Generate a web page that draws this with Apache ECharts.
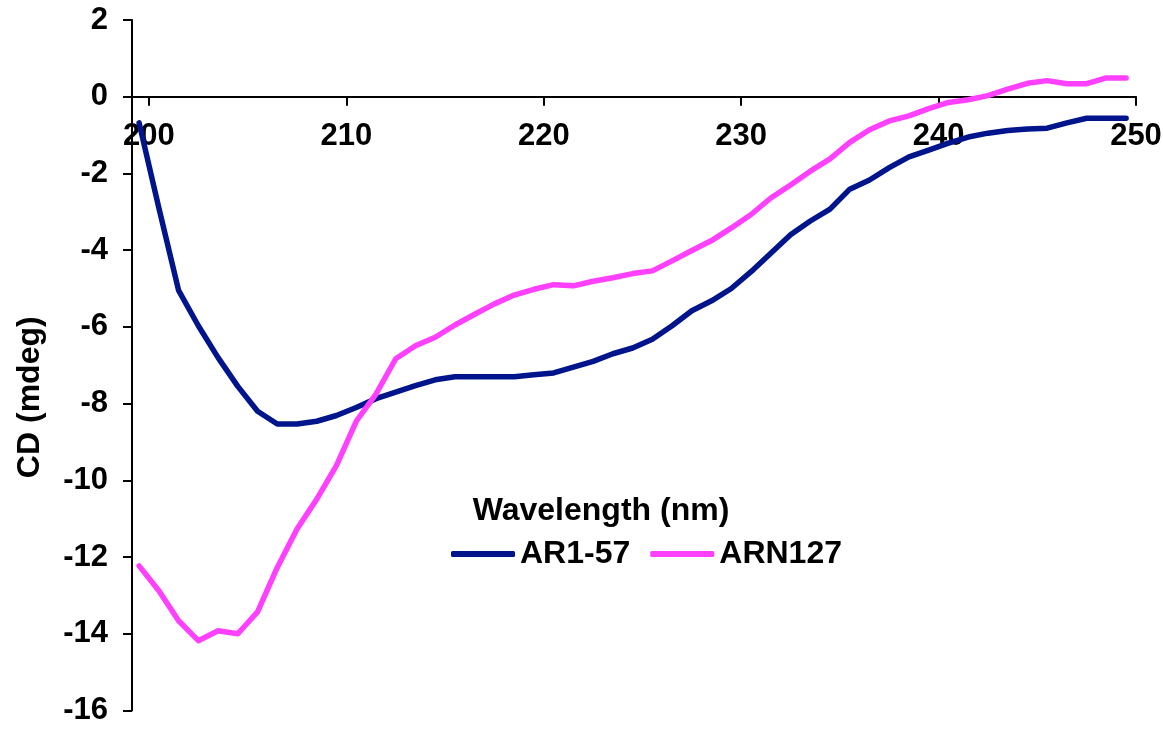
<!DOCTYPE html>
<html>
<head>
<meta charset="utf-8">
<script src="https://cdn.jsdelivr.net/npm/echarts@6/dist/echarts.min.js"></script>
<style>
  html, body { margin: 0; padding: 0; background: #fff; }
  #chart { width: 1163px; height: 729px; }
</style>
</head>
<body>
<div id="chart"></div>
<script>
// wavelength (nm) of each point, as placed on the axis
var wavelength = [199.5, 200.5, 201.5, 202.5, 203.5, 204.5, 205.5, 206.5, 207.5, 208.5,
  209.5, 210.5, 211.5, 212.5, 213.5, 214.5, 215.5, 216.5, 217.5, 218.5,
  219.5, 220.5, 221.5, 222.5, 223.5, 224.5, 225.5, 226.5, 227.5, 228.5,
  229.5, 230.5, 231.5, 232.5, 233.5, 234.5, 235.5, 236.5, 237.5, 238.5,
  239.5, 240.5, 241.5, 242.5, 243.5, 244.5, 245.5, 246.5, 247.5, 248.5, 249.5];
// CD (mdeg)
var ar157 = [-0.68, -2.9, -5.05, -5.97, -6.8, -7.55, -8.2, -8.53, -8.53, -8.46,
  -8.31, -8.1, -7.87, -7.7, -7.53, -7.38, -7.3, -7.3, -7.3, -7.3,
  -7.25, -7.2, -7.05, -6.9, -6.7, -6.55, -6.32, -5.97, -5.58, -5.32,
  -5.0, -4.56, -4.08, -3.6, -3.24, -2.93, -2.41, -2.17, -1.85, -1.57,
  -1.39, -1.21, -1.05, -0.95, -0.88, -0.84, -0.82, -0.68, -0.56, -0.56, -0.56];
var arn127 = [-12.23, -12.88, -13.66, -14.18, -13.92, -14.0, -13.43, -12.27, -11.27, -10.49,
  -9.61, -8.46, -7.75, -6.83, -6.49, -6.27, -5.95, -5.67, -5.4, -5.17,
  -5.02, -4.9, -4.93, -4.81, -4.72, -4.61, -4.54, -4.28, -4.01, -3.75,
  -3.42, -3.07, -2.64, -2.3, -1.94, -1.62, -1.19, -0.86, -0.63, -0.5,
  -0.31, -0.15, -0.08, 0.03, 0.2, 0.35, 0.42, 0.34, 0.34, 0.49, 0.49];
var xTicks = [200, 210, 220, 230, 240, 250];

var font = "'Liberation Sans', Arial, sans-serif";
var yMin = -16, yMax = 2;
var gridTop = 20, gridBottom = 18.5, chartH = 729;

function pairs (xs, ys) {
  var out = [];
  for (var i = 0; i < xs.length; i++) {
    out.push([xs[i], ys[i]]);
  }
  return out;
}

// the x axis sits on the zero line, so shift it up from the grid bottom
var plotH = chartH - gridTop - gridBottom;
var zeroShift = plotH * (0 - yMin) / (yMax - yMin);

var chart = echarts.init(document.getElementById('chart'));
chart.setOption({
  animation: false,
  backgroundColor: '#fff',
  grid: { left: 132, right: 27, top: gridTop, bottom: gridBottom, containLabel: false, outerBoundsMode: 'none' },
  legend: {
    left: 446,
    top: 533,
    itemWidth: 64,
    itemHeight: 6,
    itemGap: 20,
    icon: 'roundRect',
    textStyle: { fontFamily: font, fontWeight: 'bold', fontSize: 32, color: '#000' },
    data: ['AR1-57', 'ARN127']
  },
  xAxis: {
    type: 'value',
    position: 'bottom',
    offset: -zeroShift,
    min: 199.14,
    max: 250,
    name: 'Wavelength (nm)',
    nameLocation: 'middle',
    nameGap: 398,
    nameTextStyle: {
      fontFamily: font, fontWeight: 'bold', fontSize: 32, color: '#000',
      padding: [0, 66, 0, 0]
    },
    axisLine: { onZero: false, lineStyle: { color: '#000', width: 2 } },
    axisTick: { customValues: xTicks, length: 9, lineStyle: { color: '#000', width: 2 } },
    axisLabel: {
      customValues: xTicks,
      margin: 24,
      fontFamily: font, fontWeight: 'bold', fontSize: 31, color: '#000'
    },
    splitLine: { show: false }
  },
  yAxis: {
    type: 'value',
    min: yMin,
    max: yMax,
    interval: 2,
    name: 'CD (mdeg)',
    nameLocation: 'middle',
    nameGap: 86,
    nameTextStyle: {
      fontFamily: font, fontWeight: 'bold', fontSize: 32, color: '#000',
      padding: [0, 64, 0, 0]
    },
    axisLine: { show: true, lineStyle: { color: '#000', width: 2 } },
    axisTick: { show: true, length: 9, lineStyle: { color: '#000', width: 2 } },
    axisLabel: {
      margin: 24,
      fontFamily: font, fontWeight: 'bold', fontSize: 31, color: '#000'
    },
    splitLine: { show: false }
  },
  series: [
    {
      name: 'AR1-57',
      type: 'line',
      data: pairs(wavelength, ar157),
      symbol: 'none',
      color: '#00148C',
      lineStyle: { width: 5.5, color: '#00148C', cap: 'round', join: 'round' }
    },
    {
      name: 'ARN127',
      type: 'line',
      data: pairs(wavelength, arn127),
      symbol: 'none',
      color: '#FF40FF',
      lineStyle: { width: 5.5, color: '#FF40FF', cap: 'round', join: 'round' }
    }
  ]
});
</script>
</body>
</html>
